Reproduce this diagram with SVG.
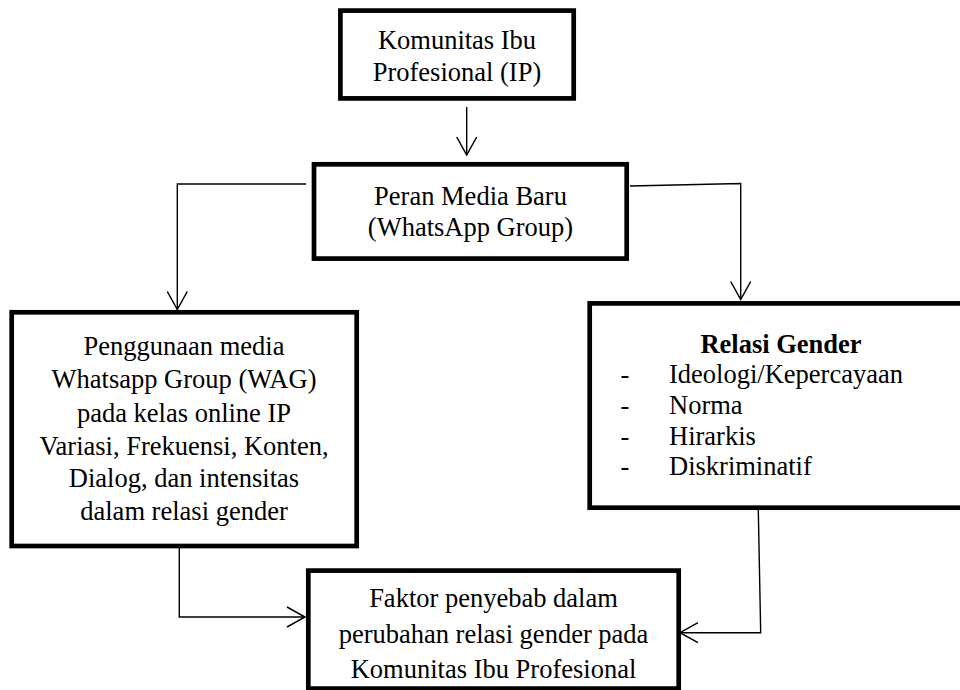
<svg xmlns="http://www.w3.org/2000/svg" width="960" height="690" viewBox="0 0 960 690">
  <defs>
    <style>
      .box { fill: #ffffff; stroke: #000000; stroke-width: 4.7; }
      text { font-family: 'Liberation Serif', 'Times New Roman', Times, 'DejaVu Serif', serif; font-size: 26.5px; fill: #000000; }
      .t { text-anchor: middle; }
      .b { font-weight: bold; }
      .c { fill: none; stroke: #000000; stroke-width: 1.4; }
    </style>
    <marker id="arr" markerUnits="userSpaceOnUse" markerWidth="24" markerHeight="24" viewBox="-20 -12 22 24" refX="0" refY="0" orient="auto" overflow="visible">
      <path d="M-18,-10 L0,0 L-18,10" fill="none" stroke="#000000" stroke-width="1.5"/>
    </marker>
  </defs>
  <rect width="960" height="690" fill="#ffffff"/>

  <g id="connectors">
    <path class="c" d="M466.7,107 L466.7,155" marker-end="url(#arr)"/>
    <path class="c" d="M306,184 L177.3,184 L177.3,309.5" marker-end="url(#arr)"/>
    <path class="c" d="M630,186 L740.7,183.5 L740.7,299.5" marker-end="url(#arr)"/>
    <path class="c" d="M179.3,548 L179.3,617 L305,617" marker-end="url(#arr)"/>
    <path class="c" d="M758.3,510 L760.7,632.7 L680,632.7" marker-end="url(#arr)"/>
  </g>

  <g id="node-komunitas" font-family="Liberation Serif, serif">
    <rect class="box" x="340.4" y="10.6" width="233.3" height="87.8"/>
    <text class="t" x="457" y="49.3">Komunitas Ibu</text>
    <text class="t" x="457" y="81">Profesional (IP)</text>
  </g>

  <g id="node-peran">
    <rect class="box" x="314" y="164.3" width="312.7" height="94.3"/>
    <text class="t" x="470.5" y="204.5">Peran Media Baru</text>
    <text class="t" x="470.5" y="235.5">(WhatsApp Group)</text>
  </g>

  <g id="node-penggunaan">
    <rect class="box" x="11.7" y="312.3" width="345" height="233.7"/>
    <text class="t" x="184" y="355">Penggunaan media</text>
    <text class="t" x="184" y="388.3">Whatsapp Group (WAG)</text>
    <text class="t" x="184" y="421.7">pada kelas online IP</text>
    <text class="t" x="184" y="455">Variasi, Frekuensi, Konten,</text>
    <text class="t" x="184" y="487">Dialog, dan intensitas</text>
    <text class="t" x="184" y="520">dalam relasi gender</text>
  </g>

  <g id="node-relasi">
    <rect class="box" x="589.7" y="303.4" width="380" height="204.3"/>
    <text class="t b" x="781" y="353">Relasi Gender</text>
    <text class="t" x="625" y="382.7">-</text>
    <text x="669" y="382.7">Ideologi/Kepercayaan</text>
    <text class="t" x="625" y="414">-</text>
    <text x="669" y="414">Norma</text>
    <text class="t" x="625" y="445">-</text>
    <text x="669" y="445">Hirarkis</text>
    <text class="t" x="625" y="475">-</text>
    <text x="669" y="475">Diskriminatif</text>
  </g>

  <g id="node-faktor">
    <rect class="box" x="308.3" y="570.6" width="370.4" height="118"/>
    <text class="t" x="493.5" y="606.5">Faktor penyebab dalam</text>
    <text class="t" x="493.5" y="642.5">perubahan relasi gender pada</text>
    <text class="t" x="493.5" y="678">Komunitas Ibu Profesional</text>
  </g>
</svg>
